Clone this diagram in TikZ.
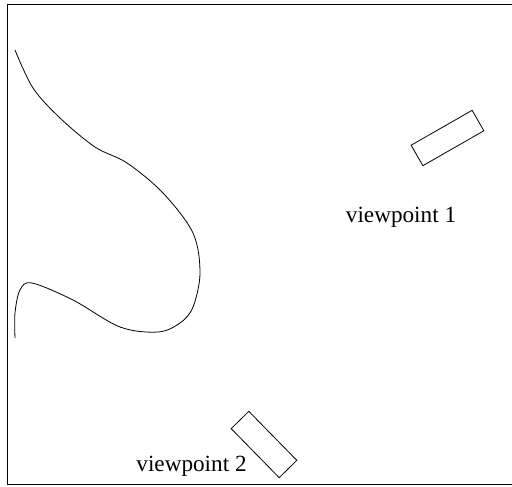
\documentclass[tikz,border=0pt]{standalone}
\usepackage{fontspec}
\setmainfont{Liberation Serif}
\begin{document}
\begin{tikzpicture}[x=1pt,y=-1pt,
  frameline/.style={line width=1.9pt},
  thin line/.style={line width=0.8pt},
  viewbox/.style={draw, line width=0.8pt, inner sep=0pt, minimum height=23.6pt},
  lbl/.style={font=\fontsize{23.2}{26}\selectfont, inner sep=0pt, anchor=base}]
\useasboundingbox (0,0) rectangle (512,487);
\clip (0,0) rectangle (512,487);
\draw[frameline] (7.5,4.5) rectangle (530,484.5);
\draw[thin line] plot[smooth, tension=0.55] coordinates {
  (15,50) (33,88) (60,118) (95,147) (127,163) (163,193) (193,233)
  (200,273) (193,307) (180,323) (158,332) (120,327) (73,300)
  (32,283) (20,290) (15,313) (15,338)};
\node[viewbox, minimum width=70.3pt, rotate=29.8] (vp1) at (447.5,138) {};
\node[viewbox, minimum width=68.6pt, minimum height=24.7pt, rotate=-45.6] (vp2) at (264,444.5) {};
\node[lbl] (t1) at (401,222) {viewpoint 1};
\node[lbl] (t2) at (191.5,471) {viewpoint 2};
\end{tikzpicture}
\end{document}
